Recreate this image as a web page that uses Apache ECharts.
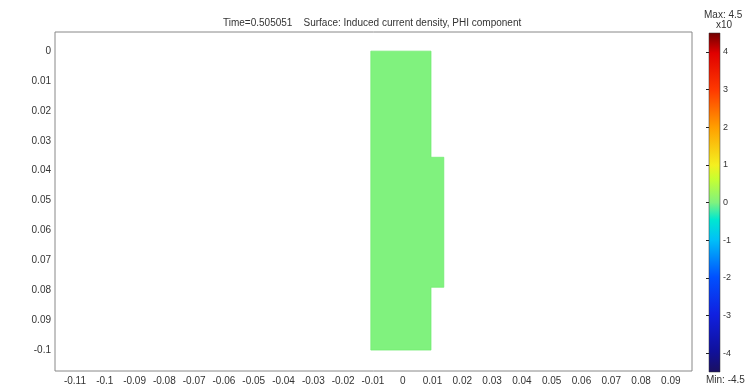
<!DOCTYPE html>
<html>
<head>
<meta charset="utf-8">
<script src="https://cdn.jsdelivr.net/npm/echarts@6/dist/echarts.min.js"></script>
<style>
html,body{margin:0;padding:0;background:#fff;}
#c{width:750px;height:390px;}
</style>
</head>
<body>
<div id="c"></div>
<script>
// ---- data ----
const titleText = 'Time=0.505051    Surface: Induced current density, PHI component';
const xTicks = [-0.11,-0.1,-0.09,-0.08,-0.07,-0.06,-0.05,-0.04,-0.03,-0.02,-0.01,0,0.01,0.02,0.03,0.04,0.05,0.06,0.07,0.08,0.09];
const xTickLabels = ['-0.11','-0.1','-0.09','-0.08','-0.07','-0.06','-0.05','-0.04','-0.03','-0.02','-0.01','0','0.01','0.02','0.03','0.04','0.05','0.06','0.07','0.08','0.09'];
const yTicks = [0,-0.01,-0.02,-0.03,-0.04,-0.05,-0.06,-0.07,-0.08,-0.09,-0.1];
const yTickLabels = ['0','0.01','0.02','0.03','0.04','0.05','0.06','0.07','0.08','0.09','-0.1'];
const xRange = [-0.1167, 0.0971];
const yRange = [-0.1070, 0.0064];
// coil cross-section outline (r, z)
const shapeX = [-0.0107, 0.0095, 0.0095, 0.0138, 0.0138, 0.0095, 0.0095, -0.0107];
const shapeY = [0, 0, -0.0355, -0.0355, -0.079, -0.079, -0.1, -0.1];
const shapeValue = 0.0;
// color bar
const cbRange = [-4.5, 4.5];
const cbTicks = [-4,-3,-2,-1,0,1,2,3,4];
const cbTickLabels = ['-4','-3','-2','-1','0','1','2','3','4'];
const cbMaxLabel = 'Max: 4.5';
const cbScaleLabel = 'x10';
const cbMinLabel = 'Min: -4.5';
const colormap = [
  [0.00, '#1a1060'], [0.06, '#10109a'], [0.17, '#1020e0'], [0.28, '#0050ff'],
  [0.39, '#00c0f8'], [0.45, '#00e8d0'], [0.50, '#80f27e'], [0.57, '#c8ff30'],
  [0.61, '#f4f020'], [0.72, '#ffa000'], [0.83, '#ff3a00'], [0.94, '#e00000'],
  [1.00, '#700000']
];

function labelFor(v, ticks, labels){
  let best = 0, d = Infinity;
  ticks.forEach((t,i)=>{ const dd = Math.abs(t - v); if (dd < d){ d = dd; best = i; } });
  return labels[best];
}
function hexToRgb(h){ return [1,3,5].map(i => parseInt(h.substr(i,2),16)); }
function colorAt(v){
  const f = (v - cbRange[0]) / (cbRange[1] - cbRange[0]);
  for (let i = 1; i < colormap.length; i++){
    if (f <= colormap[i][0]){
      const a = colormap[i-1], b = colormap[i];
      const t = (f - a[0]) / (b[0] - a[0]);
      const ca = hexToRgb(a[1]), cb = hexToRgb(b[1]);
      const c = ca.map((x,k) => Math.round(x + (cb[k]-x)*t));
      return 'rgb(' + c.join(',') + ')';
    }
  }
  return colormap[colormap.length-1][1];
}

const chart = echarts.init(document.getElementById('c'), null, {renderer:'canvas'});
const font = 'Liberation Sans';
const option = {
  animation: false,
  backgroundColor: '#fff',
  title: {
    text: titleText, left: 218, top: 13,
    textStyle: {fontFamily: font, fontSize: 10, fontWeight: 'normal', color: '#333'}
  },
  grid: [
    {left: 55, top: 32, width: 637, height: 339, show: true, borderColor: '#888', borderWidth: 1, backgroundColor: '#fff'},
    {left: 709, top: 33, width: 11, height: 339}
  ],
  xAxis: [
    {type: 'value', gridIndex: 0, min: xRange[0], max: xRange[1],
     axisLine: {show: false}, splitLine: {show: false},
     axisTick: {show: false},
     axisLabel: {customValues: xTicks, margin: 5, fontFamily: font, fontSize: 10, color: '#333',
       formatter: v => labelFor(v, xTicks, xTickLabels)}},
    {type: 'value', gridIndex: 1, min: 0, max: 1, show: false}
  ],
  yAxis: [
    {type: 'value', gridIndex: 0, min: yRange[0], max: yRange[1],
     axisLine: {show: false}, splitLine: {show: false},
     axisTick: {show: false},
     axisLabel: {customValues: yTicks, margin: 4, fontFamily: font, fontSize: 10, color: '#333',
       formatter: v => labelFor(v, yTicks, yTickLabels)}},
    {type: 'value', gridIndex: 1, min: cbRange[0], max: cbRange[1], position: 'right',
     axisLine: {show: false}, splitLine: {show: false},
     axisTick: {show: true, inside: true, length: 3, customValues: cbTicks, lineStyle: {color: '#222'}},
     axisLabel: {customValues: cbTicks, margin: 3, fontFamily: font, fontSize: 9, color: '#333',
       formatter: v => labelFor(v, cbTicks, cbTickLabels)}}
  ],
  series: [
    {
      type: 'custom', xAxisIndex: 0, yAxisIndex: 0, data: [[0, 0]], silent: true,
      renderItem: function(params, api){
        const pts = shapeX.map((x, i) => api.coord([x, shapeY[i]]));
        return {type: 'polygon', shape: {points: pts},
                style: {fill: colorAt(shapeValue), stroke: 'rgba(110,235,110,0.7)', lineWidth: 1}};
      }
    },
    {
      type: 'custom', xAxisIndex: 1, yAxisIndex: 1, data: [[0, 0]], silent: true, z: 1,
      renderItem: function(params, api){
        const p0 = api.coord([0, cbRange[1]]);
        const p1 = api.coord([1, cbRange[0]]);
        return {type: 'rect',
          shape: {x: p0[0], y: p0[1], width: p1[0]-p0[0], height: p1[1]-p0[1]},
          style: {fill: new echarts.graphic.LinearGradient(0, 1, 0, 0,
            colormap.map(s => ({offset: s[0], color: s[1]}))), stroke: '#333', lineWidth: 0.5}};
      }
    }
  ],
  graphic: [
    {type: 'text', left: 704, top: 10, style: {text: cbMaxLabel, font: '10px "Liberation Sans"', fill: '#333'}},
    {type: 'text', left: 716, top: 20, style: {text: cbScaleLabel, font: '10px "Liberation Sans"', fill: '#333'}},
    {type: 'text', left: 706, top: 375, style: {text: cbMinLabel, font: '10px "Liberation Sans"', fill: '#333'}}
  ]
};
chart.setOption(option);
</script>
</body>
</html>
